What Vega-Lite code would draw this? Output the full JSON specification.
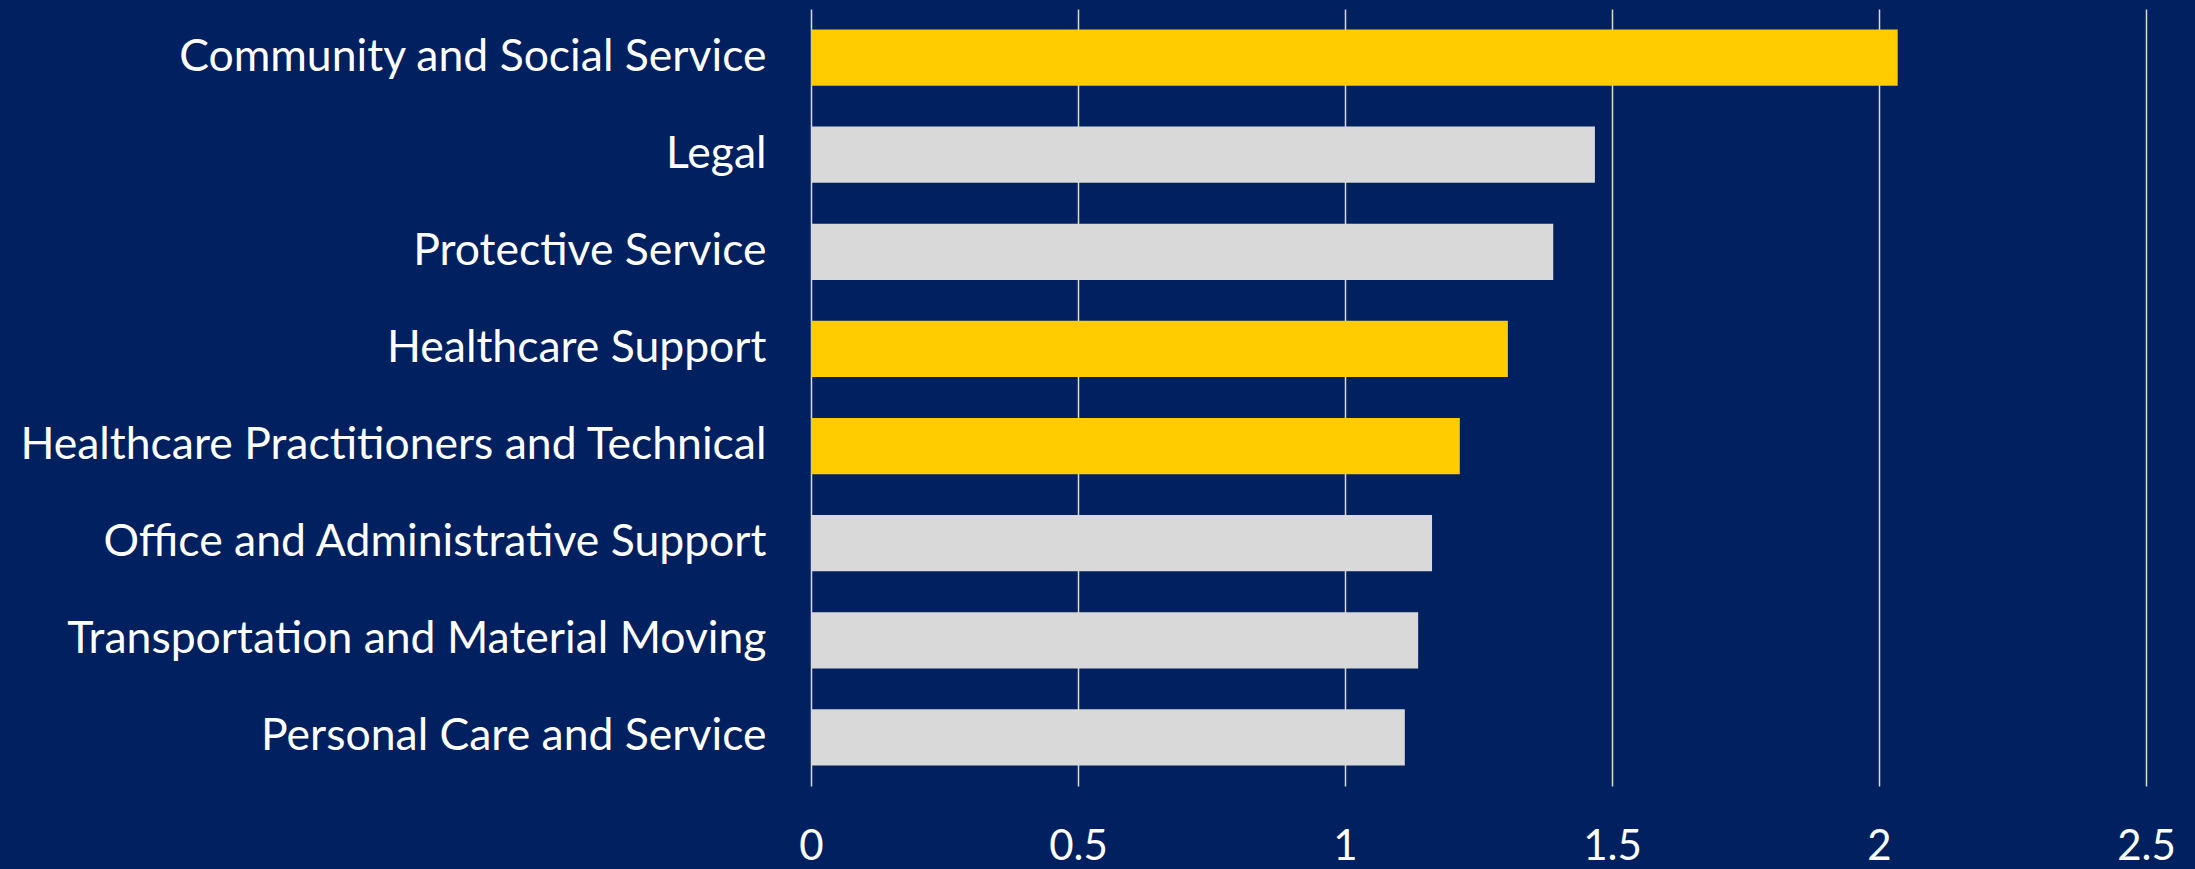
{
  "$schema": "https://vega.github.io/schema/vega-lite/v6.json",
  "autosize": {"type": "none"},
  "padding": {"left": 811, "top": 9, "right": 49, "bottom": 83},
  "width": 1335,
  "height": 777,
  "background": "#002060",
  "data": {
    "values": [
      {"occupation": "Community and Social Service", "value": 2.035, "group": "highlight"},
      {"occupation": "Legal", "value": 1.468, "group": "other"},
      {"occupation": "Protective Service", "value": 1.39, "group": "other"},
      {"occupation": "Healthcare Support", "value": 1.305, "group": "highlight"},
      {"occupation": "Healthcare Practitioners and Technical", "value": 1.215, "group": "highlight"},
      {"occupation": "Office and Administrative Support", "value": 1.163, "group": "other"},
      {"occupation": "Transportation and Material Moving", "value": 1.137, "group": "other"},
      {"occupation": "Personal Care and Service", "value": 1.112, "group": "other"}
    ]
  },
  "mark": {"type": "bar"},
  "encoding": {
    "y": {
      "field": "occupation",
      "type": "nominal",
      "sort": null,
      "scale": {"paddingInner": 0.42, "paddingOuter": 0.21},
      "axis": {
        "title": null,
        "ticks": false,
        "domain": false,
        "grid": false,
        "labelPadding": 45,
        "labelFont": "Lato",
        "labelFontSize": 44.5,
        "labelColor": "#ffffff",
        "labelLimit": 1000
      }
    },
    "x": {
      "field": "value",
      "type": "quantitative",
      "scale": {"domain": [0, 2.5], "nice": false},
      "axis": {
        "title": null,
        "values": [0, 0.5, 1, 1.5, 2, 2.5],
        "format": "~g",
        "ticks": false,
        "domain": false,
        "grid": true,
        "gridColor": "#d9d9d9",
        "gridWidth": 1.5,
        "labelPadding": 40,
        "labelFont": "Lato",
        "labelFontSize": 42,
        "labelColor": "#ffffff",
        "labelFlush": false
      }
    },
    "color": {
      "field": "group",
      "type": "nominal",
      "scale": {"domain": ["highlight", "other"], "range": ["#ffcc00", "#d9d9d9"]},
      "legend": null
    }
  },
  "config": {"view": {"stroke": null}}
}
